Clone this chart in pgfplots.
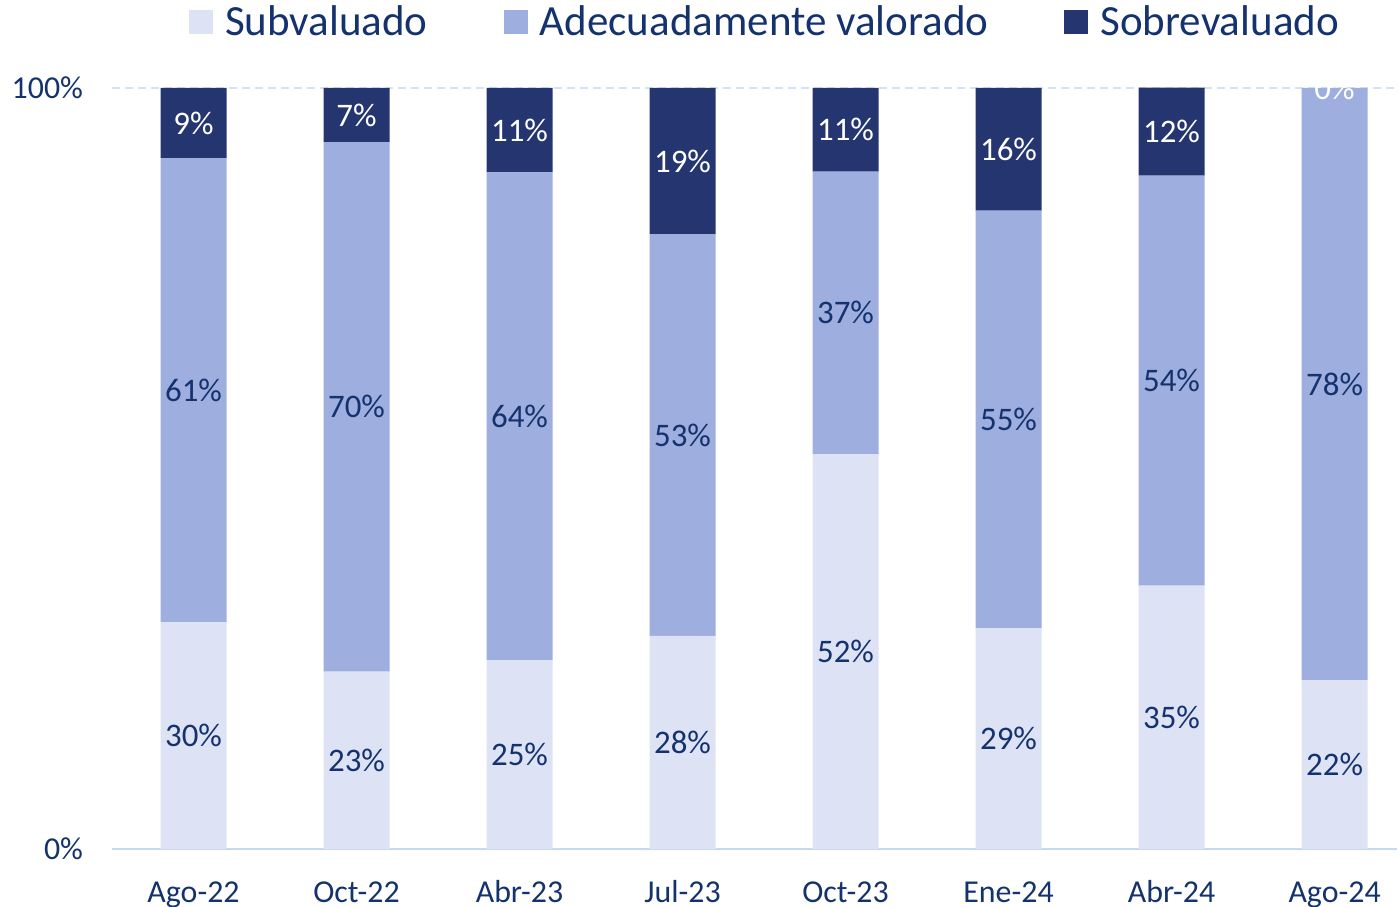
\documentclass[border=0pt]{standalone}
\usepackage{fontspec}
\setmainfont{Carlito}
\usepackage{pgfplots}
\usepackage{pgfplotstable}
\pgfplotsset{compat=1.18}

\definecolor{cSub}{HTML}{DDE3F5}
\definecolor{cAde}{HTML}{9DAEDF}
\definecolor{cSob}{HTML}{243570}
\definecolor{txt}{HTML}{14326E}
\definecolor{gridc}{HTML}{D3E3F6}
\definecolor{axisc}{HTML}{C5DAF2}

% shares of each valuation bucket
\pgfplotstableread{
x sub  ade  sob   lab
0 29.8 61.0 9.2   Ago-22
1 23.3 69.6 7.1   Oct-22
2 24.8 64.1 11.1  Abr-23
3 28.0 52.8 19.2  Jul-23
4 51.9 37.1 11.0  Oct-23
5 29.0 54.9 16.1  Ene-24
6 34.6 53.9 11.55 Abr-24
7 22.2 77.8 0     Ago-24
}\data

\pgfplotsset{
  base/.style={
    scale only axis, width=642.5bp, height=380.5bp,
    xmin=-0.5, xmax=7.383, ymin=0, ymax=100,
    enlargelimits=false,
    /pgf/number format/assume math mode=true,
  },
  sqleg/.style={legend image code/.code={\fill[##1] (0bp,-6bp) rectangle (12bp,6bp);}},
  lbl/.style={only marks, mark=*, mark size=0pt, mark options={draw=none, fill=none},
    every node near coord/.append style={text=#1}},
}

\begin{document}
\begin{tikzpicture}
\begin{axis}[
    base, name=ax,
    ybar stacked, bar width=33bp,
    axis lines*=left,
    y axis line style={draw=none},
    x axis line style={draw=axisc, line width=1bp},
    major tick length=0pt,
    xtick={0,...,7},
    xticklabels from table={\data}{lab},
    ytick={0,100},
    yticklabels={0\%,100\%},
    ymajorgrids,
    grid style={draw=gridc, line width=1bp, dash pattern=on 4bp off 2.5bp},
    tick label style={font=\fontsize{16}{19}\selectfont, text=txt},
    yticklabel style={xshift=-11bp},
    xticklabel style={anchor=base, yshift=-26.5bp},
    legend style={draw=none, fill=none, at={(0.509,1)}, anchor=center, yshift=33bp,
      legend columns=3, font=\fontsize{21.6}{25}\selectfont, text=txt,
      /tikz/every odd column/.append style={column sep=4bp},
      /tikz/every even column/.append style={column sep=36bp}},
]
\addplot[fill=cSub, draw=none, sqleg] table[x=x, y=sub] {\data};
\addplot[fill=cAde, draw=none, sqleg] table[x=x, y=ade] {\data};
\addplot[fill=cSob, draw=none, sqleg] table[x=x, y=sob] {\data};
\legend{Subvaluado, Adecuadamente valorado, Sobrevaluado}
\end{axis}

% value labels, centred in each segment
\begin{axis}[
    base, hide axis, clip marker paths=true,
    point meta=explicit,
    nodes near coords={\pgfmathprintnumber[fixed,precision=0]{\pgfplotspointmeta}\%},
    every node near coord/.append style={anchor=center, font=\fontsize{16.5}{19}\selectfont},
]
\addplot[lbl=txt] table[x=x, y expr=\thisrow{sub}/2, meta=sub] {\data};
\addplot[lbl=txt] table[x=x, y expr=\thisrow{sub}+\thisrow{ade}/2, meta=ade] {\data};
\addplot[lbl=white] table[x=x, y expr=\thisrow{sub}+\thisrow{ade}+\thisrow{sob}/2, meta=sob] {\data};
\end{axis}

\pgfresetboundingbox
\path[use as bounding box] ([xshift=-56bp,yshift=-29bp]ax.south west) rectangle ([xshift=1bp,yshift=44bp]ax.north east);
\end{tikzpicture}
\end{document}
